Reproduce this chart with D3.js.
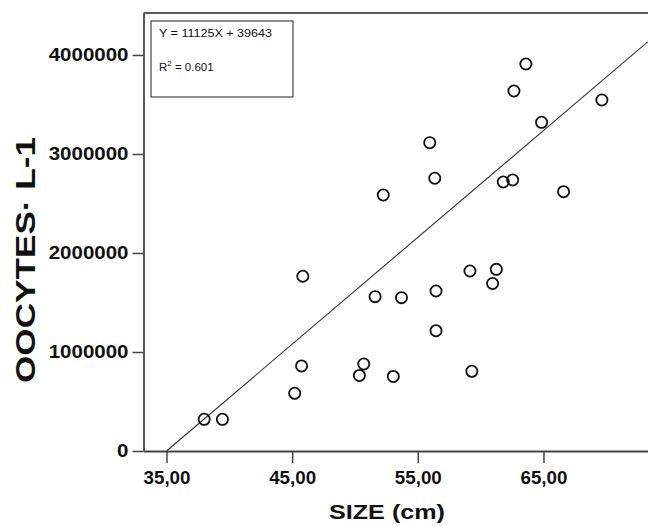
<!DOCTYPE html>
<html>
<head>
<meta charset="utf-8">
<script src="https://cdn.jsdelivr.net/npm/d3@7"></script>
<style>
  body { margin: 0; background: #fff; }
</style>
</head>
<body>
<div id="container"></div>
<script>
// data
const sizes = [38.0, 39.45, 45.2, 45.75, 45.85, 50.7, 50.35, 53.05, 51.6, 53.7, 52.25,
  55.95, 56.35, 56.45, 56.45, 59.15, 59.3, 61.25, 60.95, 61.8, 62.55, 62.65, 63.6,
  64.85, 66.6, 69.65];
const oocytes = [320000, 320000, 583000, 859000, 1765000, 879000, 763000, 753000,
  1559000, 1549000, 2586000, 3114000, 2755000, 1616000, 1215000, 1818000, 805000,
  1835000, 1692000, 2717000, 2737000, 3636000, 3909000, 3320000, 2619000, 3545000];
const xTicks = [35, 45, 55, 65];
const yTicks = [0, 1000000, 2000000, 3000000, 4000000];
const xDomain = [33.17, 73.32];
const yDomain = [0, 4424000];
const fitSlope = 107900;
const fitIntercept = -3776500;
const eqLabel = "Y = 11125X + 39643";
const r2Label = "0.601";

const w = 648;
const h = 526;

const svg = d3
  .select("#container")
  .append("svg")
  .attr("width", w)
  .attr("height", h)
  .style("font-family", "'Liberation Sans', Arial, sans-serif");

const xScale = d3.scaleLinear().domain(xDomain).range([143.5, 648]);
const yScale = d3.scaleLinear().domain(yDomain).range([451, 13]);

// top frame line
svg
  .append("line")
  .attr("x1", xScale(xDomain[0]))
  .attr("x2", xScale(xDomain[1]))
  .attr("y1", yScale(yDomain[1]))
  .attr("y2", yScale(yDomain[1]))
  .attr("stroke", "#222")
  .attr("stroke-width", 1.3);

// fit line
const fitX0 = -fitIntercept / fitSlope;
svg
  .append("line")
  .attr("x1", xScale(fitX0))
  .attr("y1", yScale(0))
  .attr("x2", xScale(xDomain[1]))
  .attr("y2", yScale(fitSlope * xDomain[1] + fitIntercept))
  .attr("stroke", "#333")
  .attr("stroke-width", 1.1);

svg
  .selectAll("circle")
  .data(sizes)
  .enter()
  .append("circle")
  .attr("cx", (d) => xScale(d))
  .attr("cy", (d, i) => yScale(oocytes[i]))
  .attr("r", 5.6)
  .attr("fill", "none")
  .attr("stroke", "#111")
  .attr("stroke-width", 1.8);

const xAxis = d3
  .axisBottom(xScale)
  .tickValues(xTicks)
  .tickSize(12)
  .tickSizeOuter(0)
  .tickPadding(9)
  .tickFormat((d) => d3.format(".2f")(d).replace(".", ","));

const yAxis = d3
  .axisLeft(yScale)
  .tickValues(yTicks)
  .tickSize(11)
  .tickSizeOuter(0)
  .tickPadding(4)
  .tickFormat(d3.format("d"));

const gx = svg
  .append("g")
  .attr("transform", `translate(0, ${yScale(0)})`)
  .call(xAxis);

const gy = svg
  .append("g")
  .attr("transform", `translate(${xScale(xDomain[0])}, 0)`)
  .call(yAxis);

[gx, gy].forEach((g) => {
  g.select(".domain").attr("stroke", "#444").attr("stroke-width", 1.8);
  g.selectAll(".tick line").attr("stroke", "#444").attr("stroke-width", 1.5);
  g.selectAll(".tick text")
    .attr("fill", "#111")
    .attr("font-family", "'Liberation Sans', Arial, sans-serif")
    .attr("font-weight", "bold")
    .attr("font-size", 17.5)
    .attr("lengthAdjust", "spacingAndGlyphs");
});
gx.selectAll(".tick text").attr("textLength", 47);
gy.selectAll(".tick text").attr("textLength", function () {
  return this.textContent.length * 11.4;
});

// axis titles
svg
  .append("text")
  .attr("x", 387)
  .attr("y", 519)
  .attr("text-anchor", "middle")
  .attr("font-weight", "bold")
  .attr("font-size", 21)
  .attr("textLength", 116)
  .attr("lengthAdjust", "spacingAndGlyphs")
  .attr("fill", "#111")
  .text("SIZE (cm)");

svg
  .append("text")
  .attr("transform", "translate(35, 260) rotate(-90)")
  .attr("text-anchor", "middle")
  .attr("font-weight", "bold")
  .attr("font-size", 27)
  .attr("textLength", 246)
  .attr("lengthAdjust", "spacingAndGlyphs")
  .attr("fill", "#111")
  .text("OOCYTES\u00b7 L-1");

// equation box
const box = svg.append("g").attr("transform", "translate(151, 21)");
box
  .append("rect")
  .attr("width", 142)
  .attr("height", 76)
  .attr("fill", "#fff")
  .attr("stroke", "#333")
  .attr("stroke-width", 1.1);

box
  .append("text")
  .attr("x", 8)
  .attr("y", 16)
  .attr("font-size", 11.5)
  .attr("textLength", 113)
  .attr("lengthAdjust", "spacingAndGlyphs")
  .attr("fill", "#111")
  .text(eqLabel);

const r2 = box
  .append("text")
  .attr("x", 8)
  .attr("y", 50)
  .attr("font-size", 11.5)
  .attr("fill", "#111");
r2.append("tspan").text("R");
r2.append("tspan").attr("dy", -5).attr("font-size", 8).text("2");
r2.append("tspan").attr("dy", 5).text(" = " + r2Label);
</script>
</body>
</html>
